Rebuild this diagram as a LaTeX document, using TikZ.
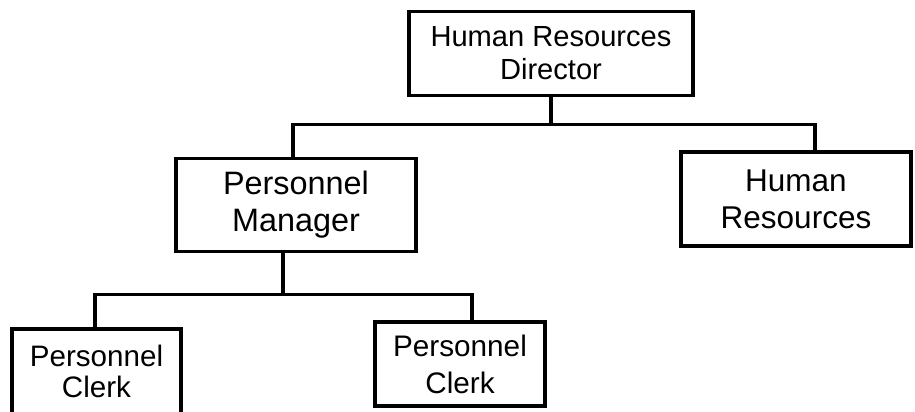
\documentclass[tikz,border=0pt]{standalone}
\usepackage{fontspec}
\setmainfont{Liberation Sans}
\begin{document}
\begin{tikzpicture}[x=1pt, y=-1pt, line width=3.5pt,
    post/.style={draw, rectangle, inner sep=0pt, align=center}]
        \useasboundingbox (0,0) rectangle (915,412);

        \node[post, minimum width=284pt, minimum height=84pt, font=\fontsize{29.1}{33}\selectfont] (dir) at (551,53.5) {Human Resources\\Director};
        \node[post, minimum width=240pt, minimum height=93pt, font=\fontsize{32.4}{37}\selectfont] (mgr) at (296,205) {Personnel\\Manager};
        \node[post, minimum width=230pt, minimum height=94pt, font=\fontsize{31.5}{37}\selectfont] (hr) at (796,199) {Human\\Resources};
        \node[post, minimum width=169pt, minimum height=85pt, font=\fontsize{29.6}{31}\selectfont] (clk1) at (96.5,371.5) {Personnel\\Clerk};
        \node[post, minimum width=170pt, minimum height=84pt, font=\fontsize{29.7}{37}\selectfont] (clk2) at (460,364) {Personnel\\Clerk};

        \coordinate (bus1) at (551,124.5);
        \coordinate (bus2) at (283,294.5);

        \draw (dir.south) -- (bus1);
        \draw ([xshift=-3pt]mgr.north) |- (bus1) -| ([xshift=19pt]hr.north);
        \draw ([xshift=-13pt]mgr.south) -- (bus2);
        \draw ([xshift=-1.5pt]clk1.north) |- (bus2) -| ([xshift=12pt]clk2.north);
      \end{tikzpicture}
\end{document}
